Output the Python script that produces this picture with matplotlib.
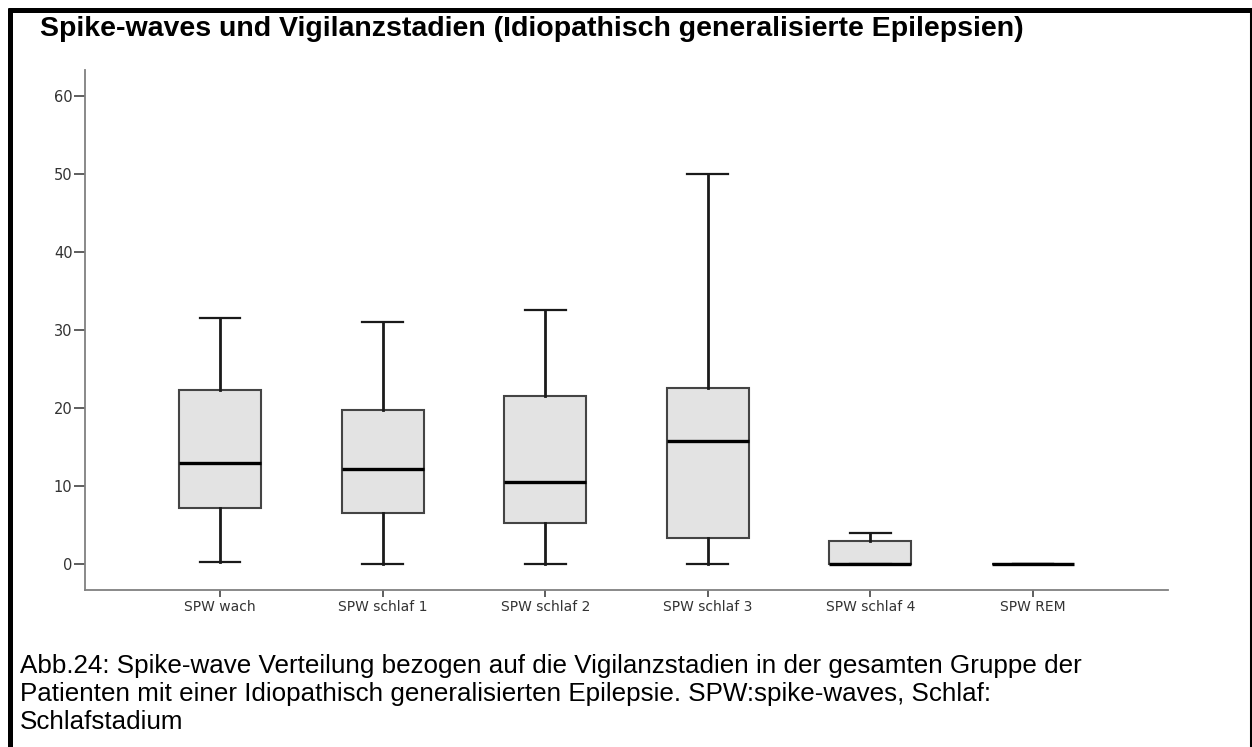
import matplotlib
matplotlib.use("Agg")
import matplotlib.pyplot as plt
from matplotlib.lines import Line2D

plt.rcParams['font.family'] = ['DejaVu Sans']

# values (spike-waves per stage)
labels = ["SPW wach", "SPW schlaf 1", "SPW schlaf 2", "SPW schlaf 3", "SPW schlaf 4", "SPW REM"]
med = [12.9, 12.2, 10.5, 15.8, 0.0, 0.0]
q1 = [7.2, 6.5, 5.2, 3.3, 0.0, 0.0]
q3 = [22.3, 19.7, 21.5, 22.6, 3.0, 0.0]
whislo = [0.2, 0.0, 0.0, 0.0, 0.0, 0.0]
whishi = [31.5, 31.0, 32.6, 50.0, 4.0, 0.0]
yticks = [0, 10, 20, 30, 40, 50, 60]

title = "Spike-waves und Vigilanzstadien (Idiopathisch generalisierte Epilepsien)"
caption = ("Abb.24: Spike-wave Verteilung bezogen auf die Vigilanzstadien in der gesamten Gruppe der\n"
           "Patienten mit einer Idiopathisch generalisierten Epilepsie. SPW:spike-waves, Schlaf:\n"
           "Schlafstadium")

stats = []
for i in range(len(labels)):
    stats.append(dict(label=labels[i], med=med[i], q1=q1[i], q3=q3[i],
                      whislo=whislo[i], whishi=whishi[i], fliers=[]))

W, H = 1252, 747
fig = plt.figure(figsize=(W / 100, H / 100), dpi=100)
ax = fig.add_axes([85 / W, 1 - 590 / H, (1168 - 85) / W, (590 - 70) / H])

ax.bxp(stats, positions=range(1, 7), widths=0.505, patch_artist=True,
       showfliers=False,
       boxprops=dict(facecolor="#e3e3e3", edgecolor="#444444", linewidth=1.5),
       medianprops=dict(color="black", linewidth=2.4),
       whiskerprops=dict(color="#1a1a1a", linewidth=2.0),
       capprops=dict(color="#1a1a1a", linewidth=1.6),
       capwidths=0.25)

ax.set_xlim(0.17, 6.83)
ax.set_ylim(-3.33, 63.3)
ax.set_yticks(yticks)
ax.set_xticks(range(1, 7))
ax.set_xticklabels(labels)
for s in ["top", "right"]:
    ax.spines[s].set_visible(False)
for s in ["left", "bottom"]:
    ax.spines[s].set_color("#808080")
    ax.spines[s].set_linewidth(1.3)
ax.tick_params(axis="y", length=8, width=1.1, color="#333333", labelsize=10.5,
               labelcolor="#333333", pad=1)
ax.tick_params(axis="x", length=5, width=1.1, color="#333333", labelsize=10,
               labelcolor="#333333", pad=2)

# frame around the figure (left, top, right; open at the bottom)
fig.add_artist(Line2D([10 / W, 10 / W], [0, 1 - 7.5 / H], transform=fig.transFigure,
                      color="black", linewidth=3.6, solid_capstyle="butt"))
fig.add_artist(Line2D([7.5 / W, 1], [1 - 10 / H, 1 - 10 / H], transform=fig.transFigure,
                      color="black", linewidth=3.6, solid_capstyle="butt"))
fig.add_artist(Line2D([1251 / W, 1251 / W], [0, 1 - 10 / H], transform=fig.transFigure,
                      color="black", linewidth=2.2, solid_capstyle="butt"))

fig.text(40 / W, 1 - 16 / H, title, fontsize=20.5, fontweight="bold",
         family="Liberation Sans", ha="left", va="top")
fig.text(20 / W, 1 - 654 / H, caption, fontsize=18.75, family="Liberation Sans",
         ha="left", va="top", linespacing=1.2)

fig.savefig("out.png", dpi=100)
